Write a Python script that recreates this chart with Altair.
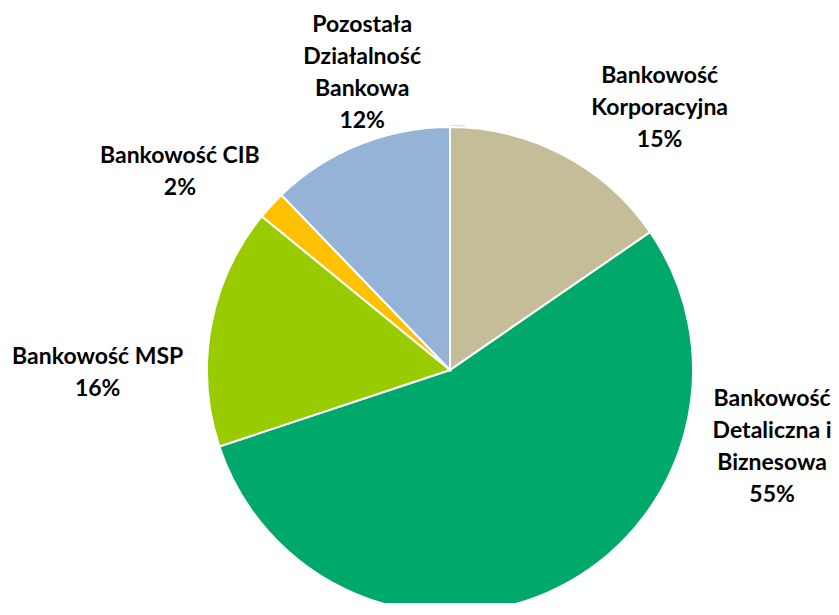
import altair as alt
import pandas as pd

categories = [
    "Bankowość Korporacyjna",
    "Bankowość Detaliczna i Biznesowa",
    "Bankowość MSP",
    "Bankowość CIB",
    "Pozostała Działalność Bankowa",
]
values = [15.4, 54.5, 16.0, 1.9, 12.2]
pct_labels = ["15%", "55%", "16%", "2%", "12%"]
label_texts = [
    "Bankowość\nKorporacyjna\n15%",
    "Bankowość\nDetaliczna i\nBiznesowa\n55%",
    "Bankowość MSP\n16%",
    "Bankowość CIB\n2%",
    "Pozostała\nDziałalność\nBankowa\n12%",
]
colors = ["#C4BD97", "#00A86B", "#99CC00", "#FFC000", "#95B3D7"]

df = pd.DataFrame({
    "cat": categories,
    "value": values,
    "idx": list(range(len(categories))),
    "label": label_texts,
})

CX, CY = 442, 362
R = 243
LR = 283
FONT = "Lato"
LH = 32

base = alt.Chart(df).encode(
    theta=alt.Theta("value:Q", stack=True),
    order=alt.Order("idx:Q"),
    x=alt.value(CX),
    y=alt.value(CY),
)

ring = alt.Chart(pd.DataFrame({"v": [1]})).mark_arc(
    radius=R + 2, color="#d9d9d9"
).encode(theta=alt.Theta("v:Q"), x=alt.value(CX), y=alt.value(CY))

pie = base.mark_arc(radius=R, stroke="white", strokeWidth=2).encode(
    color=alt.Color(
        "cat:N",
        scale=alt.Scale(domain=categories, range=colors),
        legend=None,
    )
)

offsets = [(78, -11), (196, -176), (-74, 54), (-62, -6), (18, -35)]

layers = [ring, pie]
for cat, txt, (dx, dy) in zip(categories, label_texts, offsets):
    n = txt.count("\n") + 1
    t = base.mark_text(
        radius=LR, dx=dx, dy=dy - (n - 1) * LH / 2, font=FONT, fontWeight="bold",
        fontSize=23, lineBreak="\n", lineHeight=LH, align="center",
        baseline="middle", color="#000000",
    ).encode(
        text=alt.condition(f"datum.cat == '{cat}'", "label:N", alt.value(""))
    )
    layers.append(t)

chart = alt.layer(*layers).properties(
    width=823, height=595, padding=0, autosize="none"
).configure_view(stroke=None)

chart.save("out.html", embed_options={"renderer": "svg", "actions": False})
